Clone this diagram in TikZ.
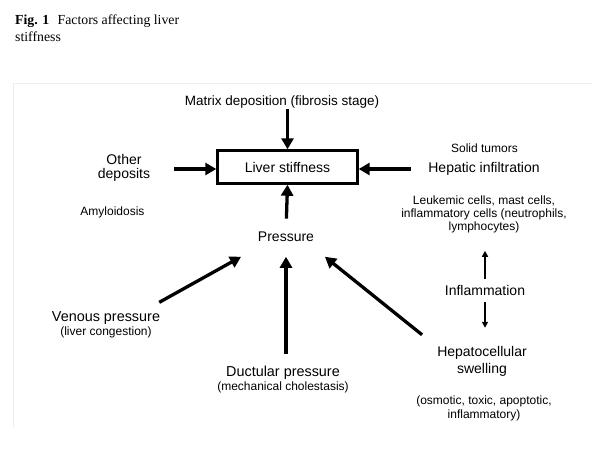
\documentclass[tikz,border=0pt]{standalone}
\usepackage{fontspec}
\setmainfont{Liberation Sans}
\newfontfamily\capfont{Liberation Serif}
\usetikzlibrary{positioning,arrows.meta}

\begin{document}
\begin{tikzpicture}[
  x=1pt, y=-1pt,
  lbl/.style={align=center, inner sep=1pt, font=\fontsize{14}{17}\selectfont},
  small/.style={align=center, inner sep=1pt, font=\fontsize{12}{12.8}\selectfont},
  box/.style={draw, line width=2.4pt, minimum width=140pt, minimum height=33pt, font=\fontsize{14}{17}\selectfont},
  arr/.style={-{Triangle[length=11pt,width=12pt]}, line width=3.3pt},
  arrs/.style={-{Triangle[length=6pt,width=6pt]}, line width=1.8pt}
]
\useasboundingbox (0,0) rectangle (592,457);

% caption
\node[anchor=north west, inner sep=0pt, font=\capfont\fontsize{13.8}{16.5}\selectfont, align=left] (cap) at (15,15)
  {\textbf{Fig. 1}\hspace{0.6em}Factors affecting liver\\stiffness};

% faint frame of the scan
\draw[black!7, line width=1pt] (592,84) -- (13,84) -- (13,427);

\node[box] (liver) at (287.5,167) {Liver stiffness};
\node[lbl, font=\fontsize{13.5}{16}\selectfont] (matrix) at (282,102) {Matrix deposition (fibrosis stage)};
\node[lbl, font=\fontsize{14}{14}\selectfont] (other) at (124,167.5) {Other\\deposits};
\node[small] (amyl) at (112.5,212.5) {Amyloidosis};
\node[small] (solid) at (484.5,148.3) {Solid tumors};
\node[lbl] (hepinf) at (484,168.5) {Hepatic infiltration};
\node[small] (leuk) at (484,214.2) {Leukemic cells, mast cells,\\inflammatory cells (neutrophils,\\lymphocytes)};
\node[lbl] (press) at (286,236.7) {Pressure};
\node[lbl] (inflam) at (485,290) {Inflammation};
\node[lbl] (hepsw) at (482,361.5) {Hepatocellular\\swelling};
\node[small, font=\fontsize{12}{13.3}\selectfont] (osm) at (484,408.3) {(osmotic, toxic, apoptotic,\\inflammatory)};
\node[lbl, font=\fontsize{14.4}{17}\selectfont] (venous) at (106,318) {Venous pressure};
\node[small, below=0pt of venous] (cong) {(liver congestion)};
\node[lbl, font=\fontsize{14.4}{17}\selectfont] (duct) at (283,373) {Ductular pressure};
\node[small, below=0pt of duct] (chol) {(mechanical cholestasis)};

\coordinate (othtail) at (174,169);
\coordinate (hintail) at (411,169);

% arrows into the box
\draw[arr] (matrix.south -| liver.north) -- (liver.north);
\draw[arr] (othtail) -- (othtail -| liver.west);
\draw[arr] (hintail) -- (hintail -| liver.east);
\draw[arr, shorten <=12pt] (press.north) -- (liver.south);

% arrows into pressure
\draw[arr] ([shift={(-2,-8)}]venous.north east) -- ([shift={(-15.75,14)}]press.south west);
\draw[arr, shorten <=11pt] (duct.north -| press.south) -- ([shift={(0,14)}]press.south);
\draw[arr] ([shift={(-14,-10.5)}]hepsw.north west) -- ([shift={(9.75,14)}]press.south east);

% inflammation
\draw[arrs, shorten <=5pt, shorten >=17pt] (inflam.north) -- (inflam.north |- leuk.south);
\draw[arrs, shorten <=5.5pt, shorten >=17.5pt] (inflam.south) -- (inflam.south |- hepsw.north);
\end{tikzpicture}
\end{document}
